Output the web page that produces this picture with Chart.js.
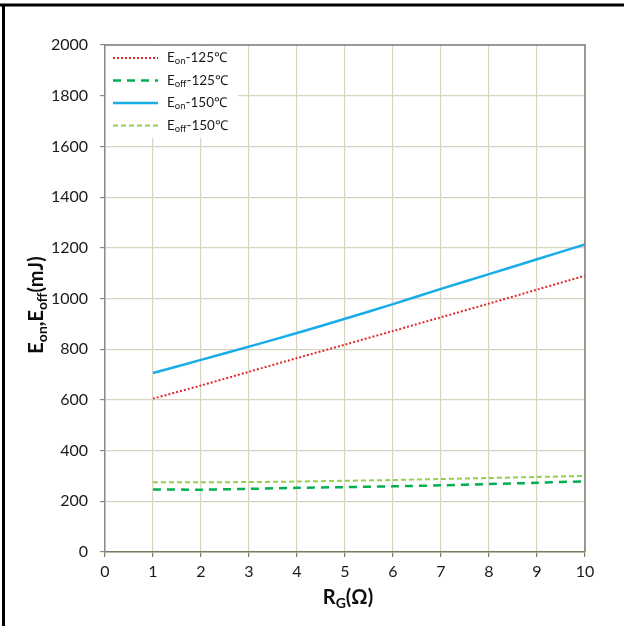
<!DOCTYPE html>
<html>
<head>
<meta charset="utf-8">
<script src="https://cdn.jsdelivr.net/npm/chart.js@4"></script>
<style>
  html, body { margin: 0; padding: 0; background: #fff; }
  #wrap { width: 624px; height: 626px; position: relative; }
</style>
</head>
<body>
<div id="wrap"><canvas id="lossChart" width="624" height="626"></canvas></div>
<script>
// Gate resistance values (ohm)
const rgValues = [1, 2, 3, 4, 5, 6, 7, 8, 9, 10];
// Switching energies (mJ)
const eon125 = [605, 657, 711, 765, 818, 872, 926, 980, 1035, 1090];
const eoff125 = [247, 246, 249, 253, 256, 259, 263, 268, 273, 279];
const eon150 = [706, 758, 810, 864, 920, 978, 1038, 1096, 1155, 1213];
const eoff150 = [275, 275, 276, 278, 281, 284, 288, 292, 296, 300];
// Legend: [main, subscript, suffix]
const seriesNames = [['E', 'on', '-125℃'], ['E', 'off', '-125℃'], ['E', 'on', '-150℃'], ['E', 'off', '-150℃']];

const FONT = 'Lato, "Open Sans", sans-serif';
const gridColor = '#d9d4bf';

function toPoints(ys) {
    return rgValues.map((x, i) => ({ x: x, y: ys[i] }));
}

// draws "E" + subscript + rest at given position, returns end x
function drawSubText(ctx, x, y, parts, bigSize, smallSize, bold) {
    const w = bold ? 'bold ' : '';
    ctx.font = w + bigSize + 'px ' + FONT;
    ctx.fillText(parts[0], x, y);
    x += ctx.measureText(parts[0]).width;
    ctx.font = w + smallSize + 'px ' + FONT;
    ctx.fillText(parts[1], x, y + bigSize * 0.25);
    x += ctx.measureText(parts[1]).width;
    ctx.font = w + bigSize + 'px ' + FONT;
    ctx.fillText(parts[2], x, y);
    x += ctx.measureText(parts[2]).width;
    return x;
}

const decorPlugin = {
    id: 'decor',
    afterDraw(chart) {
        const ctx = chart.ctx;
        const a = chart.chartArea;
        ctx.save();

        // plot frame (top / right)
        ctx.strokeStyle = '#7f7f7f';
        ctx.lineWidth = 1.5;
        ctx.beginPath();
        ctx.moveTo(a.left, a.top);
        ctx.lineTo(a.right, a.top);
        ctx.lineTo(a.right, a.bottom);
        ctx.stroke();

        // legend box
        ctx.fillStyle = '#fff';
        ctx.fillRect(a.left + 1, a.top + 1, 132, 92);
        const ds = chart.data.datasets;
        ctx.textBaseline = 'middle';
        ctx.textAlign = 'left';
        for (let i = 0; i < ds.length; i++) {
            const y = a.top + 13 + i * 22.5;
            ctx.strokeStyle = ds[i].borderColor;
            ctx.lineWidth = ds[i].borderWidth;
            ctx.setLineDash(ds[i].borderDash || []);
            ctx.beginPath();
            ctx.moveTo(a.left + 8, y);
            ctx.lineTo(a.left + 53, y);
            ctx.stroke();
            ctx.setLineDash([]);
            ctx.fillStyle = '#1a1a1a';
            drawSubText(ctx, a.left + 62, y, seriesNames[i], 13.5, 9.5, false);
        }

        // y-axis title
        ctx.fillStyle = '#0d0d0d';
        ctx.save();
        ctx.translate(37, 305);
        ctx.rotate(-Math.PI / 2);
        const yParts = [['E', 'on', ','], ['E', 'off', '(mJ)']];
        let total = 0;
        yParts.forEach(p => {
            ctx.font = 'bold 20px ' + FONT; total += ctx.measureText(p[0]).width + ctx.measureText(p[2]).width;
            ctx.font = 'bold 14px ' + FONT; total += ctx.measureText(p[1]).width;
        });
        let x = -total / 2;
        yParts.forEach(p => { x = drawSubText(ctx, x, 0, p, 20, 14, true); });
        ctx.restore();

        // x-axis title
        ctx.font = 'bold 20px ' + FONT;
        let xt = ctx.measureText('R').width + ctx.measureText('(Ω)').width;
        ctx.font = 'bold 14px ' + FONT;
        xt += ctx.measureText('G').width;
        drawSubText(ctx, 348 - xt / 2, 598, ['R', 'G', '(Ω)'], 20, 14, true);

        // outer frame
        ctx.strokeStyle = '#000';
        ctx.lineWidth = 3;
        ctx.beginPath();
        ctx.moveTo(0, 5);
        ctx.lineTo(624, 5);
        ctx.moveTo(3.5, 5);
        ctx.lineTo(3.5, 626);
        ctx.stroke();
        ctx.restore();
    }
};

const ctx = document.getElementById('lossChart').getContext('2d');
new Chart(ctx, {
    type: 'line',
    data: {
        datasets: [
            { label: 'Eon-125', data: toPoints(eon125), borderColor: '#e0282d', borderWidth: 2, borderDash: [2, 2] },
            { label: 'Eoff-125', data: toPoints(eoff125), borderColor: '#00b050', borderWidth: 2.5, borderDash: [8, 6] },
            { label: 'Eon-150', data: toPoints(eon150), borderColor: '#16ade8', borderWidth: 2.5 },
            { label: 'Eoff-150', data: toPoints(eoff150), borderColor: '#92d050', borderWidth: 2, borderDash: [5, 3] }
        ]
    },
    options: {
        responsive: false,
        animation: false,
        elements: { point: { radius: 0 }, line: { tension: 0.3 } },
        layout: { padding: { top: 45, right: 39, left: 0, bottom: 0 } },
        plugins: { legend: { display: false }, tooltip: { enabled: false } },
        scales: {
            x: {
                type: 'linear', min: 0, max: 10,
                ticks: { stepSize: 1, color: '#1a1a1a', font: { family: FONT, size: 16 }, padding: 5,
                         callback: v => String(v) },
                grid: { color: gridColor, lineWidth: 1.2, tickColor: '#7d7a5e', tickLength: 5 },
                border: { color: '#7d7a5e', width: 1.5 },
                afterFit: s => { s.height = 74; }
            },
            y: {
                min: 0, max: 2000,
                ticks: { stepSize: 200, color: '#1a1a1a', font: { family: FONT, size: 16 }, padding: 12,
                         callback: v => String(v) },
                grid: { color: gridColor, lineWidth: 1.2, tickColor: '#898989', tickLength: 5 },
                border: { color: '#8a8a8a', width: 1.5 },
                afterFit: s => { s.width = 105; }
            }
        }
    },
    plugins: [decorPlugin]
});
</script>
</body>
</html>
